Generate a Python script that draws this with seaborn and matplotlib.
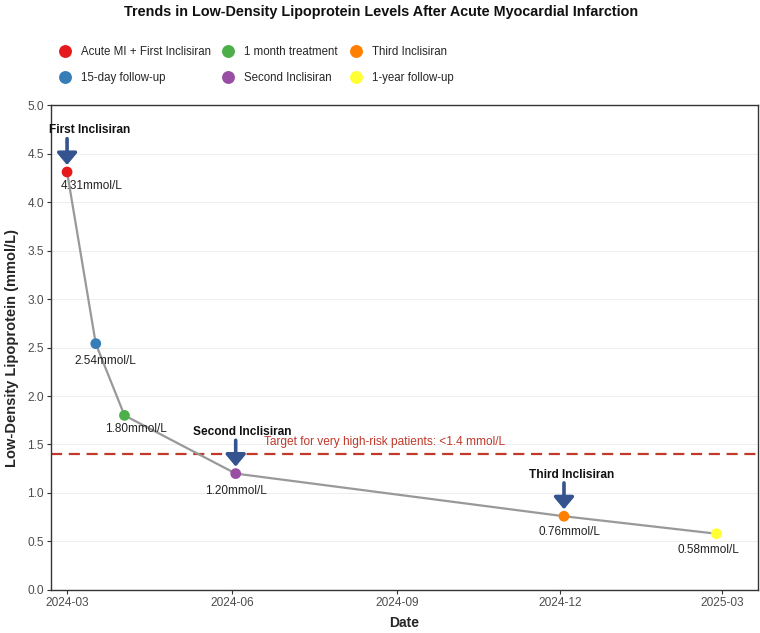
import pandas as pd
import numpy as np
import matplotlib
matplotlib.use("Agg")
import matplotlib.pyplot as plt
import matplotlib.dates as mdates
import seaborn as sns

# data
dates = ["2024-03-01", "2024-03-17", "2024-04-02", "2024-06-03", "2024-12-03", "2025-02-26"]
ldl = [4.31, 2.54, 1.80, 1.20, 0.76, 0.58]
stages = [
    "Acute MI + First Inclisiran",
    "15-day follow-up",
    "1 month treatment",
    "Second Inclisiran",
    "Third Inclisiran",
    "1-year follow-up",
]
stage_colors = ["#E41A1C", "#377EB8", "#4DAF4A", "#984EA3", "#FF7F00", "#FFFF33"]
injections = ["First Inclisiran", "Second Inclisiran", "Third Inclisiran"]
injection_idx = [0, 3, 4]
target = 1.4
target_label = "Target for very high-risk patients: <1.4 mmol/L"

# label offsets in pixels (dx, dy) for value labels
value_offsets = [(24, -14), (10, -17), (11, -14), (0, -17), (5, -16), (-8, -16)]
inj_text_dx = [23, 7, 8]

df = pd.DataFrame({"Date": pd.to_datetime(dates), "LDL": ldl, "Stage": stages})

sns.set_theme(style="white")
plt.rcParams["font.family"] = ["Liberation Sans", "DejaVu Sans"]

fig = plt.figure(figsize=(7.6, 6.33), dpi=100)
ax = fig.add_axes([0.067, 0.068, 0.93, 0.766])

ax.yaxis.grid(True, color="#EBEBEB", linewidth=0.6)
ax.set_axisbelow(True)

sns.lineplot(data=df, x="Date", y="LDL", color="#999999", linewidth=1.6, ax=ax, zorder=2)
sns.scatterplot(data=df, x="Date", y="LDL", hue="Stage", palette=stage_colors,
                hue_order=stages, s=60, edgecolor="none", ax=ax, zorder=3, legend=True)

ax.axhline(target, color="#C0392B", linestyle=(0, (5, 3)), linewidth=1.6, zorder=1)
ax.text(pd.Timestamp("2024-06-19"), target + 0.06, target_label, color="#C0392B",
        fontsize=8.6, ha="left", va="bottom")

for (d, v, (dx, dy)) in zip(df["Date"], df["LDL"], value_offsets):
    ax.annotate(f"{v:.2f}mmol/L", xy=(d, v), xytext=(dx * 0.72, dy * 0.72),
                textcoords="offset points", ha="center", va="center",
                fontsize=8.5, color="#222222")

for name, i, tdx in zip(injections, injection_idx, inj_text_dx):
    d, v = df["Date"][i], df["LDL"][i]
    ax.annotate("", xy=(d, v), xytext=(0, 24), textcoords="offset points",
                arrowprops=dict(arrowstyle="-|>,head_width=0.5,head_length=0.6",
                                color="#34538F", lw=2.6, shrinkA=0, shrinkB=5))
    ax.annotate(name, xy=(d, v), xytext=(tdx * 0.72, 30), textcoords="offset points",
                ha="center", va="center", fontsize=8.6, fontweight="bold", color="#111111")

ax.set_xlim(pd.Timestamp("2024-02-21"), pd.Timestamp("2025-03-21"))
ax.set_ylim(0, 5.0)
ax.set_yticks(np.arange(0, 5.01, 0.5))
ax.xaxis.set_major_locator(mdates.MonthLocator(bymonth=[3, 6, 9, 12]))
ax.xaxis.set_major_formatter(mdates.DateFormatter("%Y-%m"))
ax.tick_params(axis="both", labelsize=8.6, labelcolor="#4D4D4D", color="#333333",
               length=3, width=0.8, bottom=True, left=True, pad=2)

for sp in ax.spines.values():
    sp.set_color("#333333")
    sp.set_linewidth(1.0)

ax.set_xlabel("Date", fontsize=10, fontweight="bold", labelpad=5)
ax.set_ylabel("Low-Density Lipoprotein (mmol/L)", fontsize=10.5, fontweight="bold", labelpad=6)

handles, labels = ax.get_legend_handles_labels()
ax.get_legend().remove()
fig.legend(handles, labels, loc="upper left", bbox_to_anchor=(0.064, 0.944), ncol=3,
           frameon=False, fontsize=8.3, handlelength=1.0, handletextpad=0.87,
           columnspacing=1.05, labelspacing=1.2, markerscale=1.2)

fig.suptitle("Trends in Low-Density Lipoprotein Levels After Acute Myocardial Infarction",
             x=0.502, y=0.992, fontsize=10.4, fontweight="bold", color="#111111")

fig.savefig("out.png", dpi=100)
